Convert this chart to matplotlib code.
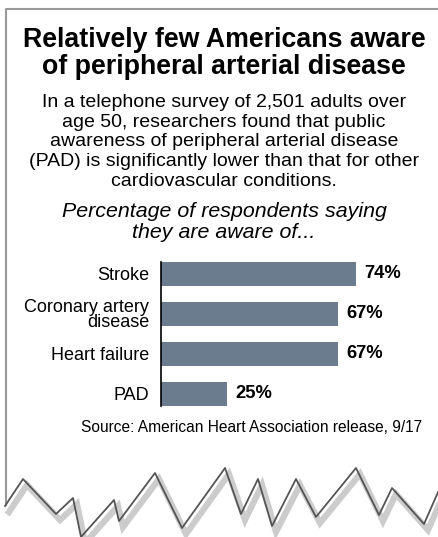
import matplotlib.pyplot as plt

plt.rcParams['font.family'] = ['Liberation Sans', 'DejaVu Sans']

# data
categories = ['Stroke', 'Coronary artery\ndisease', 'Heart failure', 'PAD']
values = [74, 67, 67, 25]
value_labels = ['74%', '67%', '67%', '25%']

title_lines = ['Relatively few Americans aware', 'of peripheral arterial disease']
body_lines = ['In a telephone survey of 2,501 adults over',
              'age 50, researchers found that public',
              'awareness of peripheral arterial disease',
              '(PAD) is significantly lower than that for other',
              'cardiovascular conditions.']
sub_lines = ['Percentage of respondents saying', 'they are aware of...']
source = 'Source: American Heart Association release, 9/17'

# torn paper edge at the bottom (decoration, pixel coords)
edge_x = [5, 23, 56, 73, 81, 114, 119, 155, 182, 225, 241, 258, 272, 296, 316, 356, 379, 392, 424, 439]
edge_y = [506, 479, 514, 498, 537, 500, 521, 473, 528, 468, 514, 479, 526, 479, 517, 468, 515, 488, 524, 490]

W, H = 439, 537
fig = plt.figure(figsize=(W / 100, H / 100), dpi=100)

# overlay in pixel coordinates for text and frame
bg = fig.add_axes([0, 0, 1, 1])
bg.set_xlim(0, W)
bg.set_ylim(H, 0)
bg.axis('off')

bg.plot([6, 6, W], [506, 9, 9], color='#9a9a9a', lw=1.5, solid_capstyle='butt')
bg.plot([x + 4 for x in edge_x], [y + 6 for y in edge_y], color='#cccccc', lw=4.5,
        solid_joinstyle='miter')
bg.plot(edge_x, edge_y, color='#555555', lw=1.3)

cx = 224
for i, line in enumerate(title_lines):
    bg.text(cx, 47 + i * 27, line, ha='center', va='baseline',
            fontsize=19.3, fontweight='bold', color='black')
for i, line in enumerate(body_lines):
    bg.text(cx, 107 + i * 19.7, line, ha='center', va='baseline',
            fontsize=14, color='black')
for i, line in enumerate(sub_lines):
    bg.text(cx, 217 + i * 21, line, ha='center', va='baseline',
            fontsize=15.4, fontstyle='italic', color='black')
bg.text(252, 432, source, ha='center', va='baseline', fontsize=11.2, color='black')

# bar chart
px_per = 2.637
left, right = 161, 161 + 100 * px_per
top, bottom = 262, 406
ax = fig.add_axes([left / W, 1 - bottom / H, (right - left) / W, (bottom - top) / H])
ax.patch.set_alpha(0)
pos = list(range(len(values)))
ax.barh(pos, values, height=0.58, color='#6b7c8f', edgecolor='none')
ax.set_xlim(0, 100)
ax.set_ylim(3.3, -0.3)
for s in ['top', 'right', 'bottom']:
    ax.spines[s].set_visible(False)
ax.spines['left'].set_color('black')
ax.spines['left'].set_linewidth(1.2)
ax.set_xticks([])
ax.set_yticks(pos)
ax.set_yticklabels(categories, fontsize=13, linespacing=0.88)
ax.tick_params(axis='y', length=0, pad=8.5)
for p, v, lab in zip(pos, values, value_labels):
    ax.text(v + 3.2, p, lab, va='center', ha='left', fontsize=13.2,
            fontweight='bold', color='black')

plt.savefig('out.png', dpi=100)
